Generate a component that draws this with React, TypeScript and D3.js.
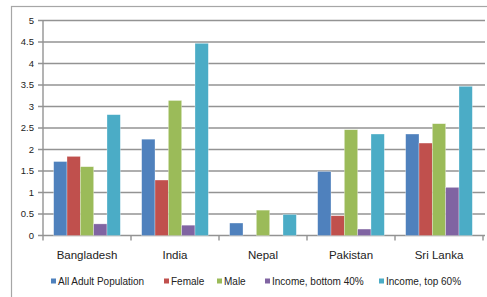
import * as d3 from 'd3';

const countries = ['Bangladesh', 'India', 'Nepal', 'Pakistan', 'Sri Lanka'];
const seriesNames = [
  'All Adult Population',
  'Female',
  'Male',
  'Income, bottom 40%',
  'Income, top 60%',
];
const colors = ['#4F81BD', '#C0504D', '#9BBB59', '#8064A2', '#4BACC6'];

// values per series, in country order
const allAdult = [1.72, 2.24, 0.29, 1.49, 2.36];
const female = [1.84, 1.29, 0, 0.46, 2.15];
const male = [1.6, 3.14, 0.59, 2.46, 2.6];
const bottom40 = [0.27, 0.24, 0, 0.15, 1.12];
const top60 = [2.81, 4.47, 0.49, 2.36, 3.47];

const yTicks = [0, 0.5, 1, 1.5, 2, 2.5, 3, 3.5, 4, 4.5, 5];

const WIDTH = 487;
const HEIGHT = 297;
const PLOT = { left: 43, right: 483, top: 20.5, bottom: 235.5 };
const FONT = '"Liberation Sans", Arial, sans-serif';

const App = () => {
  const seriesValues = [allAdult, female, male, bottom40, top60];

  const xScale = d3
    .scaleBand<string>()
    .domain(countries)
    .range([PLOT.left, PLOT.right])
    .padding(0);

  const innerScale = d3
    .scaleBand<string>()
    .domain(seriesNames)
    .range([0, xScale.bandwidth()])
    .paddingInner(0)
    .paddingOuter(0.8);

  const yScale = d3.scaleLinear().domain([0, 5]).range([PLOT.bottom, PLOT.top]);

  // legend layout (x start of each swatch)
  const legendX = [51, 164, 217, 265, 379];
  const legendY = 281;

  return (
    <svg
      width={WIDTH}
      height={HEIGHT}
      style={{ position: 'absolute', left: 0, top: 0, background: '#fff' }}
    >
      {/* chart frame */}
      <rect
        x={11.5}
        y={6.5}
        width={WIDTH}
        height={HEIGHT}
        fill="none"
        stroke="#a6a6a6"
        strokeWidth={1.2}
      />

      {/* gridlines */}
      {yTicks.map((t) => (
        <line
          key={'g' + t}
          x1={PLOT.left - 5}
          x2={PLOT.right + 2}
          y1={yScale(t)}
          y2={yScale(t)}
          stroke="#939393"
          strokeWidth={1.4}
        />
      ))}

      {/* y axis */}
      <line
        x1={PLOT.left}
        x2={PLOT.left}
        y1={PLOT.top}
        y2={PLOT.bottom + 5}
        stroke="#939393"
        strokeWidth={1.4}
      />
      {yTicks.map((t) => (
        <text
          key={'yl' + t}
          x={34}
          y={yScale(t)}
          dy="0.35em"
          textAnchor="end"
          fontFamily={FONT}
          fontSize={9.5}
          fill="#222"
        >
          {t}
        </text>
      ))}

      {/* x axis tick marks */}
      {countries.map((c) => (
        <line
          key={'xt' + c}
          x1={(xScale(c) || 0) + xScale.bandwidth()}
          x2={(xScale(c) || 0) + xScale.bandwidth()}
          y1={PLOT.bottom}
          y2={PLOT.bottom + 5}
          stroke="#939393"
          strokeWidth={1.4}
        />
      ))}

      {/* bars */}
      {countries.map((c, ci) => (
        <g key={c} transform={`translate(${xScale(c)},0)`}>
          {seriesNames.map((s, si) => {
            const v = seriesValues[si][ci];
            if (!v) return null;
            return (
              <rect
                key={s}
                x={innerScale(s)}
                y={yScale(v)}
                width={innerScale.bandwidth()}
                height={yScale(0) - yScale(v)}
                fill={colors[si]}
                stroke="#ffffff"
                strokeOpacity={0.5}
                strokeWidth={0.6}
              />
            );
          })}
        </g>
      ))}

      {/* category labels */}
      {countries.map((c) => (
        <text
          key={'xl' + c}
          x={(xScale(c) || 0) + xScale.bandwidth() / 2}
          y={255}
          dy="0.35em"
          textAnchor="middle"
          fontFamily={FONT}
          fontSize={11.5}
          fill="#222"
        >
          {c}
        </text>
      ))}

      {/* legend */}
      {seriesNames.map((s, i) => (
        <g key={'lg' + s}>
          <rect
            x={legendX[i]}
            y={legendY - 2.5}
            width={5}
            height={5}
            fill={colors[i]}
          />
          <text
            x={legendX[i] + 7}
            y={legendY}
            dy="0.35em"
            fontFamily={FONT}
            fontSize={10}
            fill="#222"
          >
            {s}
          </text>
        </g>
      ))}
    </svg>
  );
};

export default App;
